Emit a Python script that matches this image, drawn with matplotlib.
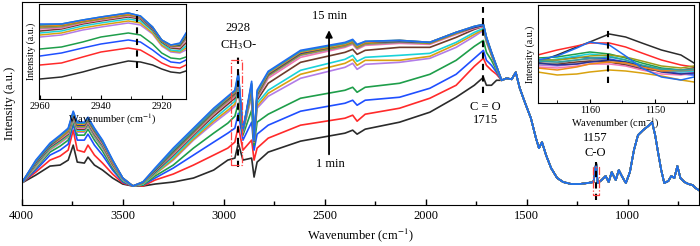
import matplotlib
matplotlib.use('Agg')
import matplotlib.pyplot as plt
from matplotlib.ticker import MultipleLocator

plt.rcParams['font.family'] = ['Liberation Serif', 'DejaVu Serif']
plt.rcParams['mathtext.fontset'] = 'stix'

# ---------------- data ----------------
# 15 spectra, 1 min (black) ... 15 min (blue); intensity in arbitrary units
head_wn = [4000, 3930, 3860, 3810, 3770, 3745, 3725, 3690, 3672, 3640,
           3600, 3550, 3500, 3450, 3400, 3340, 3250, 3150, 3050, 2980,
           2945, 2928, 2905, 2862, 2850, 2835, 2780, 2620, 2400, 2362,
           2340, 2300, 2130, 1980, 1850, 1760, 1715, 1700, 1675, 1650]

s01 = [22, 30, 39, 40, 45, 60, 43, 42, 48, 40, 35, 27, 21, 19, 19, 21, 23, 27, 35, 45,
       47, 62, 45, 47, 28, 43, 53, 64, 72, 75, 71, 76, 83, 93, 108, 120, 128, 120, 120, 125]
s02 = [22, 33, 45, 49, 55, 75, 55, 53, 60, 50, 42, 31, 22, 19, 19, 25, 31, 40, 50, 57,
       63, 79, 55, 65, 45, 57, 67, 80, 87, 90, 84, 91, 97, 107, 120, 139, 147, 140, 135, 131]
s03 = [22, 35, 50, 55, 61, 81, 65, 65, 71, 60, 50, 35, 23, 19, 20, 27, 37, 50, 63, 72,
       77, 92, 65, 83, 55, 71, 80, 94, 102, 105, 100, 105, 108, 117, 131, 147, 155, 145, 140, 133]
s04 = [22, 37, 53, 59, 65, 84, 70, 70, 76, 65, 54, 37, 24, 19, 20, 29, 40, 57, 72, 82,
       89, 102, 70, 95, 60, 83, 91, 107, 115, 118, 113, 118, 122, 131, 145, 159, 165, 153, 145, 135]
s05 = [22, 38, 55, 62, 68, 86, 73, 73, 79, 68, 57, 39, 25, 19, 21, 31, 45, 65, 82, 93,
       99, 115, 73, 109, 63, 97, 109, 127, 138, 142, 136, 141, 143, 147, 158, 169, 175, 163, 150, 137]
s06 = [22, 39, 56, 63, 69, 87, 74, 74, 80, 69, 58, 40, 25, 19, 21, 31, 46, 66, 84, 95,
       101, 117, 73, 111, 63, 99, 112, 131, 142, 146, 140, 145, 145, 149, 161, 171, 176, 164, 150, 137]
s07 = [22, 40, 57, 64, 70, 88, 75, 75, 81, 70, 59, 41, 25, 19, 21, 32, 48, 68, 86, 98,
       104, 120, 74, 113, 64, 102, 115, 135, 146, 150, 144, 148, 150, 152, 163, 173, 177, 165, 151, 137]
s08 = [22, 41, 58, 65, 71, 89, 76, 76, 82, 71, 60, 41, 26, 19, 22, 33, 50, 70, 89, 101,
       107, 123, 75, 115, 64, 105, 122, 143, 153, 156, 151, 155, 158, 158, 168, 176, 179, 166, 151, 138]
s09 = [22, 42, 59, 66, 72, 90, 77, 77, 83, 72, 61, 42, 26, 19, 22, 34, 51, 71, 91, 103,
       109, 125, 75, 117, 65, 107, 127, 148, 158, 161, 156, 160, 162, 161, 171, 177, 179, 167, 152, 138]
s10 = [22, 42, 59, 67, 73, 91, 78, 78, 84, 73, 62, 43, 26, 19, 22, 34, 52, 72, 92, 104,
       110, 127, 75, 118, 65, 108, 129, 150, 159, 162, 157, 161, 163, 162, 172, 178, 180, 167, 152, 138]
s11 = [22, 43, 60, 67, 74, 92, 79, 79, 85, 74, 63, 43, 27, 19, 22, 35, 53, 73, 93, 105,
       111, 128, 75, 119, 65, 110, 130, 151, 160, 163, 158, 162, 164, 162, 172, 178, 180, 167, 152, 139]
s12 = [22, 43, 60, 68, 75, 92, 80, 80, 86, 75, 63, 44, 27, 19, 23, 35, 54, 74, 94, 106,
       112, 129, 75, 120, 65, 111, 131, 152, 161, 164, 159, 163, 164, 163, 173, 178, 180, 168, 153, 139]
s13 = [22, 44, 61, 68, 75, 93, 81, 81, 87, 76, 64, 44, 27, 19, 23, 36, 55, 75, 95, 107,
       113, 130, 75, 121, 65, 112, 132, 153, 161, 164, 159, 163, 165, 163, 173, 179, 181, 168, 153, 139]
s14 = [22, 44, 61, 69, 76, 93, 82, 82, 87, 76, 64, 45, 27, 19, 23, 36, 55, 75, 95, 108,
       114, 131, 75, 122, 65, 113, 133, 154, 162, 165, 160, 164, 165, 163, 173, 179, 181, 168, 153, 139]
s15 = [22, 45, 62, 70, 77, 94, 83, 83, 88, 77, 65, 45, 27, 19, 23, 37, 57, 77, 97, 109,
       115, 133, 75, 124, 65, 115, 134, 155, 163, 166, 161, 164, 165, 163, 173, 179, 181, 168, 153, 139]

# below ~1650 cm-1 all spectra overlap
tail_wn = [1625, 1600, 1575, 1555, 1535, 1510, 1480, 1455, 1440, 1425,
           1405, 1380, 1350, 1320, 1280, 1240, 1200, 1170, 1157, 1150,
           1130, 1110, 1095, 1080, 1060, 1045, 1030, 1010, 990, 970,
           950, 925, 900, 880, 865, 850, 835, 820, 800, 785,
           770, 755, 740, 720, 700, 680, 665, 650]
tail_int = [125, 127, 126, 133, 117, 103, 87, 67, 57, 63,
            50, 37, 27, 23, 21, 21, 22, 23, 42, 22,
            25, 29, 23, 33, 25, 35, 29, 22, 33, 55,
            70, 75, 79, 83, 70, 52, 35, 22, 24, 29,
            27, 39, 27, 23, 21, 20, 17, 15]

# inset 1: 2960-2912 cm-1
in1_wn = [2960, 2953, 2946, 2940, 2931, 2927, 2923, 2920, 2917, 2914, 2912]
in1 = [
    [21, 23, 28, 33, 39, 38, 35, 31, 28, 27, 29],
    [35, 37, 43, 48, 52, 50, 43, 37, 33, 32, 35],
    [44, 47, 52, 56, 60, 58, 50, 43, 38, 37, 40],
    [51, 53, 58, 63, 67, 65, 56, 47, 42, 41, 43],
    [63, 65, 70, 73, 77, 75, 66, 54, 48, 47, 50],
    [65, 67, 72, 75, 79, 77, 67, 55, 49, 48, 52],
    [67, 69, 74, 77, 81, 79, 69, 57, 50, 49, 54],
    [69, 71, 76, 79, 83, 81, 70, 58, 52, 51, 57],
    [71, 72, 77, 80, 84, 82, 71, 59, 53, 53, 60],
    [72, 73, 78, 81, 85, 82, 71, 59, 53, 54, 61],
    [73, 74, 78, 81, 85, 83, 72, 59, 54, 54, 63],
    [74, 75, 79, 82, 86, 83, 72, 60, 54, 55, 64],
    [74, 75, 79, 82, 86, 83, 73, 60, 54, 56, 65],
    [75, 76, 80, 83, 87, 84, 73, 60, 55, 56, 66],
    [76, 76, 80, 83, 87, 84, 73, 60, 55, 57, 67],
]

# inset 2: 1168-1144 cm-1
in2_wn = [1168, 1165, 1162, 1160, 1157, 1154.5, 1152, 1149, 1146, 1144]
in2 = [
    [43, 50, 58, 63, 71, 68, 62, 55, 50, 42],
    [50, 55, 59, 62, 62, 58, 52, 45, 40, 38],
    [45, 45, 48, 47, 46, 43, 39, 35, 31, 30],
    [47, 48, 51, 53, 51, 47, 42, 37, 35, 35],
    [40, 39, 41, 43, 43, 41, 37, 34, 33, 33],
    [33, 30, 31, 33, 35, 34, 32, 29, 25, 23],
    [43, 46, 49, 51, 49, 45, 39, 35, 33, 34],
    [42, 41, 43, 44, 43, 40, 36, 34, 35, 37],
    [38, 37, 39, 41, 41, 39, 35, 31, 30, 32],
    [41, 42, 45, 46, 45, 42, 38, 35, 34, 35],
    [45, 45, 47, 49, 50, 48, 44, 39, 37, 39],
    [42, 40, 41, 43, 45, 43, 39, 33, 31, 32],
    [37, 35, 38, 41, 43, 42, 38, 34, 35, 36],
    [44, 43, 45, 47, 48, 45, 40, 36, 35, 36],
    [45, 49, 57, 63, 60, 49, 37, 28, 25, 28],
]

spectra = [s01, s02, s03, s04, s05, s06, s07, s08, s09, s10, s11, s12, s13, s14, s15]
colors = ['#2b2b2b', '#ff2a2a', '#1f4fff', '#1e9e4a', '#b27ce8', '#d9a20f', '#19d2d9',
          '#6e3b2c', '#f277b3', '#8a8a8a', '#9c9c18', '#2a3590', '#f08a1a', '#2fa0a0',
          '#1f6cf0']

# ---------------- plot ----------------
fig = plt.figure(figsize=(7.0, 2.46), dpi=100)
ax = fig.add_axes([0.031, 0.1667, 0.967, 0.8233])

for s, c in zip(spectra, colors):
    ax.plot(head_wn + tail_wn, s + tail_int, color=c, lw=1.2)

ax.set_xlim(4000, 650)
ax.set_ylim(0, 203)
ax.set_yticks([])
ax.xaxis.set_major_locator(MultipleLocator(500))
ax.xaxis.set_minor_locator(MultipleLocator(250))
ax.tick_params(axis='x', which='both', direction='in', labelsize=9, width=1)
ax.tick_params(axis='x', which='major', length=4)
ax.tick_params(axis='x', which='minor', length=3)
ax.set_xlabel(r'Wavenumber (cm$^{-1}$)', fontsize=9, labelpad=3)
ax.set_ylabel('Intensity (a.u.)', fontsize=9, labelpad=4)

# markers
ax.plot([2928, 2928], [38, 148], color='k', ls=(0, (3, 2.5)), lw=1.5)
ax.plot([1715, 1715], [112, 198], color='k', ls=(0, (3, 2.5)), lw=1.5)
ax.plot([1157, 1157], [5, 43], color='k', ls=(0, (3, 2.5)), lw=1.5)
ax.plot([2963, 2909, 2909, 2963, 2963], [40, 40, 145, 145, 40], color='#ff4040',
        ls='-.', lw=0.9)
ax.plot([1172, 1142, 1142, 1172, 1172], [10, 10, 38, 38, 10], color='#ff4040',
        ls='-.', lw=0.9)

ax.text(2928, 177, '2928', ha='center', va='center', fontsize=9)
ax.text(2928, 160, r'CH$_3$O-', ha='center', va='center', fontsize=9)
ax.text(1706, 98, 'C = O', ha='center', va='center', fontsize=9)
ax.text(1706, 85, '1715', ha='center', va='center', fontsize=9)
ax.text(1162, 67, '1157', ha='center', va='center', fontsize=9)
ax.text(1162, 52, 'C-O', ha='center', va='center', fontsize=9)
ax.annotate('', xy=(2479, 178), xytext=(2479, 48),
            arrowprops=dict(arrowstyle='-|>', color='k', lw=1.3, mutation_scale=10))
ax.text(2479, 189, '15 min', ha='center', va='center', fontsize=9)
ax.text(2470, 41, '1 min', ha='center', va='center', fontsize=9)

# inset 1
ax1 = fig.add_axes([0.0553, 0.5976, 0.2104, 0.3862])
for s, c in zip(in1, colors):
    ax1.plot(in1_wn, s, color=c, lw=1.1)
ax1.plot([2928, 2928], [32, 90], color='k', ls=(0, (3, 2.5)), lw=1.5)
ax1.set_xlim(2960.5, 2912)
ax1.set_ylim(1, 96)
ax1.set_yticks([])
ax1.set_xticks([2960, 2940, 2920])
ax1.xaxis.set_minor_locator(MultipleLocator(10))
ax1.tick_params(axis='x', which='both', direction='in', labelsize=7.5, pad=2)
ax1.tick_params(axis='x', which='major', length=3)
ax1.tick_params(axis='x', which='minor', length=2)
ax1.set_xlabel(r'Wavenumber (cm$^{-1}$)', fontsize=7.5, labelpad=1)
ax1.set_ylabel('Intensity (a.u.)', fontsize=7, labelpad=2)

# inset 2
ax2 = fig.add_axes([0.7681, 0.5813, 0.2233, 0.3984])
for s, c in zip(in2, colors):
    ax2.plot(in2_wn, s, color=c, lw=1.1)
ax2.plot([1157.2, 1157.2], [22, 79], color='k', ls=(0, (3, 2.5)), lw=1.5)
ax2.set_xlim(1168, 1144)
ax2.set_ylim(2, 100)
ax2.set_yticks([])
ax2.set_xticks([1160, 1150])
ax2.xaxis.set_minor_locator(MultipleLocator(5))
ax2.tick_params(axis='x', which='both', direction='in', labelsize=7.5, pad=2)
ax2.tick_params(axis='x', which='major', length=3)
ax2.tick_params(axis='x', which='minor', length=2)
ax2.set_xlabel(r'Wavenumber (cm$^{-1}$)', fontsize=7.5, labelpad=1)
ax2.set_ylabel('Intensity (a.u.)', fontsize=7, labelpad=2)

plt.savefig('out.png', dpi=100)
